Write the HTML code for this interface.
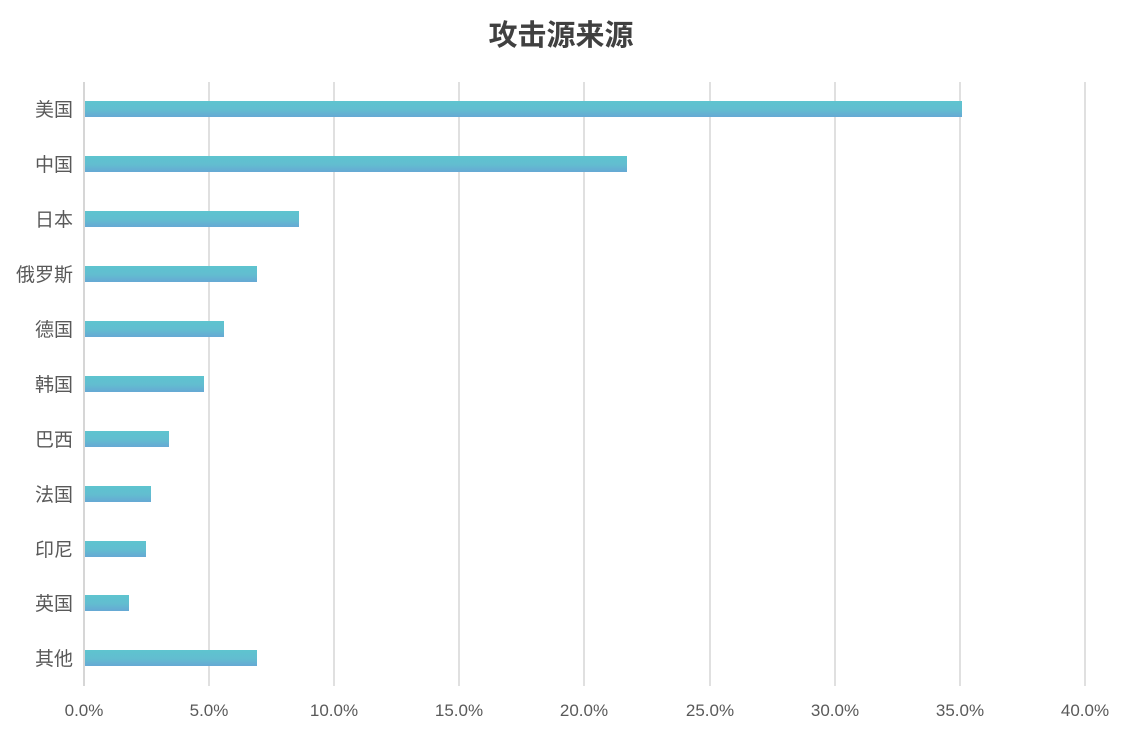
<!DOCTYPE html>
<html><head><meta charset="utf-8"><style>
body{margin:0;background:#fff;}
svg text{font-family:"Liberation Sans","Noto Sans CJK SC",sans-serif;}
</style></head><body>
<svg width="1123" height="736" viewBox="0 0 1123 736" xmlns="http://www.w3.org/2000/svg">
<defs><linearGradient id="g" x1="0" y1="0" x2="0" y2="1">
<stop offset="0" stop-color="#5ec4cf"/><stop offset="0.55" stop-color="#62bdd0"/><stop offset="1" stop-color="#66a8d4"/></linearGradient></defs>
<text x="561" y="45" text-anchor="middle" font-size="29" font-weight="bold" fill="#404040">攻击源来源</text>
<g stroke="#e0e0e0" stroke-width="2">
<line x1="209" y1="82" x2="209" y2="686"/><line x1="334" y1="82" x2="334" y2="686"/>
<line x1="459" y1="82" x2="459" y2="686"/><line x1="584" y1="82" x2="584" y2="686"/>
<line x1="710" y1="82" x2="710" y2="686"/><line x1="835" y1="82" x2="835" y2="686"/>
<line x1="960" y1="82" x2="960" y2="686"/><line x1="1085" y1="82" x2="1085" y2="686"/>
</g>
<line x1="84" y1="82" x2="84" y2="686" stroke="#d6d6d6" stroke-width="2"/>
<g fill="url(#g)">
<rect x="85" y="101" width="877" height="16"/>
<rect x="85" y="156" width="542" height="16"/>
<rect x="85" y="211" width="214" height="16"/>
<rect x="85" y="266" width="172" height="16"/>
<rect x="85" y="321" width="139" height="16"/>
<rect x="85" y="376" width="119" height="16"/>
<rect x="85" y="431" width="84" height="16"/>
<rect x="85" y="486" width="66" height="16"/>
<rect x="85" y="541" width="61" height="16"/>
<rect x="85" y="595" width="44" height="16"/>
<rect x="85" y="650" width="172" height="16"/>
</g>
<g font-size="19" fill="#595959" text-anchor="end">
<text x="73" y="116">美国</text><text x="73" y="171">中国</text><text x="73" y="226">日本</text>
<text x="73" y="281">俄罗斯</text><text x="73" y="336">德国</text><text x="73" y="391">韩国</text>
<text x="73" y="446">巴西</text><text x="73" y="501">法国</text><text x="73" y="556">印尼</text>
<text x="73" y="610">英国</text><text x="73" y="665">其他</text>
</g>
<g font-size="17" fill="#595959" text-anchor="middle">
<text x="84" y="716">0.0%</text><text x="209" y="716">5.0%</text><text x="334" y="716">10.0%</text>
<text x="459" y="716">15.0%</text><text x="584" y="716">20.0%</text><text x="710" y="716">25.0%</text>
<text x="835" y="716">30.0%</text><text x="960" y="716">35.0%</text><text x="1085" y="716">40.0%</text>
</g>
</svg>
</body></html>
